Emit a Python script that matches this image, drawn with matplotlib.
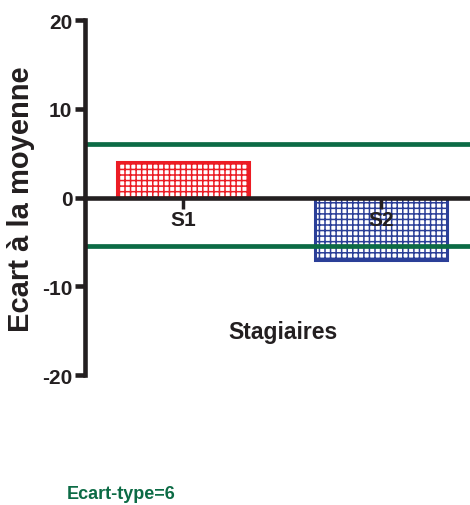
import matplotlib
matplotlib.use('Agg')
import matplotlib.pyplot as plt

# Données
stagiaires = ['S1', 'S2']
ecarts = [4, -7]
limites_ecart_type = [6, -5.5]
yticks = [-20, -10, 0, 10, 20]

couleurs_barres = ['#ec1c24', '#2b3f98']
vert = '#0c6b45'
noir = '#231f20'

plt.rcParams['font.family'] = ['Liberation Sans', 'DejaVu Sans']
plt.rcParams['font.weight'] = 'bold'
plt.rcParams['hatch.linewidth'] = 1.1

fig = plt.figure(figsize=(4.7, 5.06), dpi=100)
ax = fig.add_axes([85 / 470, 1 - 376 / 506, 1 - 85 / 470, (376 - 21) / 506])

x = list(range(len(stagiaires)))
for i, (val, c) in enumerate(zip(ecarts, couleurs_barres)):
    ax.bar(x[i], val, width=0.667, facecolor='white', edgecolor=c,
           hatch='+++', linewidth=2.2, zorder=1)

for lim in limites_ecart_type:
    ax.axhline(lim, color=vert, linewidth=3.4, zorder=2)

ax.spines['top'].set_visible(False)
ax.spines['right'].set_visible(False)
ax.spines['bottom'].set_position(('data', 0))
for s in ['left', 'bottom']:
    ax.spines[s].set_linewidth(3.3)
    ax.spines[s].set_color(noir)
    ax.spines[s].set_zorder(3)

ax.set_xlim(-0.495, 1.449)
ax.set_ylim(-20, 20)
ax.set_yticks(yticks)
ax.set_xticks(x)
ax.set_xticklabels(stagiaires, fontsize=15, fontweight='bold', color=noir)
ax.set_yticklabels([str(v) for v in yticks], fontsize=15, fontweight='bold', color=noir)

ax.tick_params(axis='y', length=7, width=3.3, color=noir, pad=2)
ax.tick_params(axis='x', length=8, width=2.5, color=noir, pad=1)

fig.text(21 / 470, 1 - 199 / 506, 'Ecart à la moyenne', rotation=90,
         ha='center', va='center', fontsize=21, fontweight='bold', color=noir)
fig.text(283 / 470, 1 - 333 / 506, 'Stagiaires', ha='center', va='center',
         fontsize=16.5, fontweight='bold', color=noir)
fig.text(121 / 470, 1 - 495 / 506, 'Ecart-type=6', ha='center', va='center',
         fontsize=13, fontweight='bold', color=vert)

fig.savefig('out.png', dpi=100)
